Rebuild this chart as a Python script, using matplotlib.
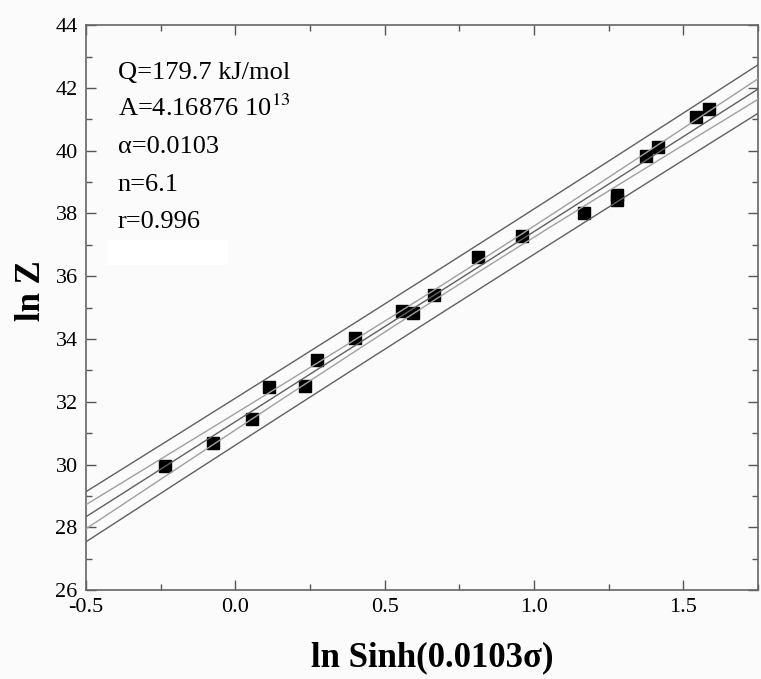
import matplotlib
matplotlib.use("Agg")
import matplotlib.pyplot as plt
import numpy as np
from matplotlib.ticker import MultipleLocator, FormatStrFormatter

# data
ln_sinh = [-0.235, -0.076, 0.057, 0.113, 0.234, 0.273, 0.400, 0.559, 0.594, 0.665,
           0.814, 0.961, 1.169, 1.277, 1.277, 1.375, 1.416, 1.544, 1.587]
ln_z = [29.95, 30.67, 31.44, 32.47, 32.51, 33.32, 34.04, 34.88, 34.83, 35.39,
        36.61, 37.27, 38.02, 38.58, 38.42, 39.82, 40.12, 41.06, 41.32]
notes = ["Q=179.7 kJ/mol", "A=4.16876 10$^{13}$", "\u03b1=0.0103", "n=6.1", "r=0.996"]

plt.rcParams['font.family'] = ['Liberation Serif', 'DejaVu Serif']
plt.rcParams['mathtext.fontset'] = 'stix'

x = np.array(ln_sinh)
y = np.array(ln_z)
n = len(x)
slope, icpt = np.polyfit(x, y, 1)
resid = y - (slope * x + icpt)
s = np.sqrt(np.sum(resid ** 2) / (n - 2))
t = 2.11  # 95%, n-2 dof
sxx = np.sum((x - x.mean()) ** 2)

xx = np.linspace(-0.5, 1.75, 200)
yy = slope * xx + icpt
conf = t * s * np.sqrt(1 / n + (xx - x.mean()) ** 2 / sxx)
pred = t * s * np.sqrt(1 + 1 / n + (xx - x.mean()) ** 2 / sxx)

fig = plt.figure(figsize=(7.61, 6.79), dpi=100, facecolor='#fbfbfb')
ax = fig.add_axes([0.113, 0.131, 0.883, 0.832])
ax.set_facecolor('#fbfbfb')

ax.plot(x, y, 's', color='black', markersize=8, zorder=2)
ax.plot(xx, yy, color='#606060', lw=1.0, zorder=3)
ax.plot(xx, yy + conf, color='#a0a0a0', lw=1.0, zorder=3)
ax.plot(xx, yy - conf, color='#a0a0a0', lw=1.0, zorder=3)
ax.plot(xx, yy + pred, color='#606060', lw=1.0, zorder=3)
ax.plot(xx, yy - pred, color='#606060', lw=1.0, zorder=3)

ax.set_xlim(-0.5, 1.75)
ax.set_ylim(26, 44)
ax.xaxis.set_major_locator(MultipleLocator(0.5))
ax.xaxis.set_minor_locator(MultipleLocator(0.25))
ax.yaxis.set_major_locator(MultipleLocator(2))
ax.yaxis.set_minor_locator(MultipleLocator(1))
ax.xaxis.set_major_formatter(FormatStrFormatter('%.1f'))
ax.tick_params(which='both', direction='in', top=True, right=True,
               color='#555555', labelsize=16, pad=6)
ax.tick_params(which='major', length=7, width=1)
ax.tick_params(which='minor', length=4, width=1)
for sp in ax.spines.values():
    sp.set_color('#666666')
    sp.set_linewidth(1.2)

ax.set_xlabel('ln Sinh(0.0103\u03c3)', fontsize=25, fontweight='bold')
ax.set_ylabel('ln Z', fontsize=25, fontweight='bold')
ax.xaxis.set_label_coords(0.515, -0.09)
ax.yaxis.set_label_coords(-0.057, 0.53)

for i, s_ in enumerate(notes):
    ax.text(0.047, 0.905 - i * 0.066, s_, transform=ax.transAxes,
            fontsize=19, va='baseline', ha='left')

# white smudge under the text block
ax.add_patch(plt.Rectangle((0.032, 0.575), 0.18, 0.045, transform=ax.transAxes,
                           facecolor='white', edgecolor='none', zorder=1))

fig.savefig('out.png', dpi=100, facecolor=fig.get_facecolor())
